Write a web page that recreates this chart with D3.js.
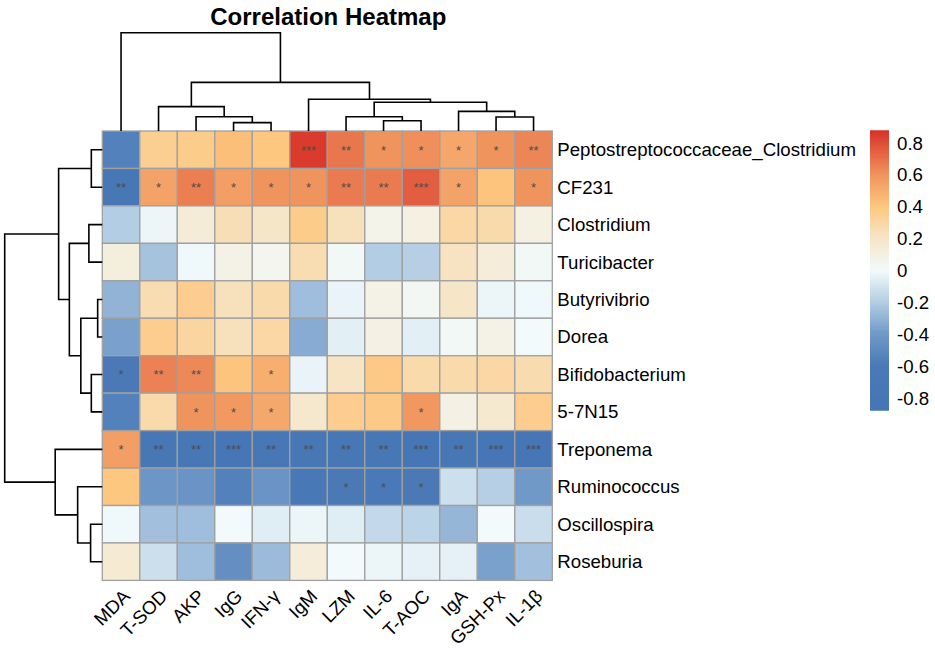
<!DOCTYPE html>
<html>
<head>
<meta charset="utf-8">
<style>
  body { margin: 0; background: white; font-family: "Liberation Sans", Arial, sans-serif; }
</style>
<script src="https://cdn.jsdelivr.net/npm/d3@7"></script>
</head>
<body>
<svg id="chart" width="935" height="648"></svg>
<script>

let colNames = ["MDA", "T-SOD", "AKP", "IgG", "IFN-\u03b3", "IgM", "LZM", "IL-6", "T-AOC", "IgA", "GSH-Px", "IL-1\u03b2"]

let rowNames = ["Peptostreptococcaceae_Clostridium", "CF231", "Clostridium", "Turicibacter",
  "Butyrivibrio", "Dorea", "Bifidobacterium", "5-7N15", "Treponema", "Ruminococcus",
  "Oscillospira", "Roseburia"]

// correlation values, one row per genus, columns in colNames order
let corr = [
  [-0.55, 0.35, 0.37, 0.43, 0.40, 0.85, 0.68, 0.60, 0.61, 0.53, 0.60, 0.64],
  [-0.75, 0.54, 0.66, 0.56, 0.60, 0.60, 0.67, 0.67, 0.75, 0.54, 0.41, 0.60],
  [-0.20, -0.02, 0.14, 0.25, 0.20, 0.37, 0.23, 0.07, 0.10, 0.30, 0.28, 0.10],
  [0.12, -0.24, -0.01, 0.08, 0.05, 0.26, 0.02, -0.20, -0.19, 0.22, 0.13, 0.02],
  [-0.30, 0.26, 0.36, 0.23, 0.28, -0.26, -0.03, 0.08, 0.03, 0.20, -0.02, -0.01],
  [-0.37, 0.36, 0.31, 0.23, 0.30, -0.33, -0.05, 0.09, -0.05, 0.02, 0.08, 0.00],
  [-0.60, 0.65, 0.63, 0.41, 0.50, -0.03, 0.21, 0.38, 0.28, 0.28, 0.30, 0.27],
  [-0.55, 0.28, 0.60, 0.58, 0.52, 0.18, 0.36, 0.38, 0.59, 0.09, 0.17, 0.36],
  [0.56, -0.75, -0.75, -0.80, -0.75, -0.76, -0.76, -0.75, -0.80, -0.76, -0.80, -0.80],
  [0.40, -0.42, -0.43, -0.55, -0.43, -0.65, -0.62, -0.63, -0.62, -0.12, -0.19, -0.40],
  [-0.01, -0.25, -0.26, 0.00, -0.06, -0.02, -0.06, -0.15, -0.17, -0.29, 0.00, -0.13],
  [0.16, -0.12, -0.26, -0.46, -0.27, 0.13, 0.00, -0.02, -0.04, -0.04, -0.37, -0.25]
]

let stars = [
  ["", "", "", "", "", "***", "**", "*", "*", "*", "*", "**"],
  ["**", "*", "**", "*", "*", "*", "**", "**", "***", "*", "", "*"],
  ["", "", "", "", "", "", "", "", "", "", "", ""],
  ["", "", "", "", "", "", "", "", "", "", "", ""],
  ["", "", "", "", "", "", "", "", "", "", "", ""],
  ["", "", "", "", "", "", "", "", "", "", "", ""],
  ["*", "**", "**", "", "*", "", "", "", "", "", "", ""],
  ["", "", "*", "*", "*", "", "", "", "*", "", "", ""],
  ["*", "**", "**", "***", "**", "**", "**", "**", "***", "**", "***", "***"],
  ["", "", "", "", "", "", "*", "*", "*", "", "", ""],
  ["", "", "", "", "", "", "", "", "", "", "", ""],
  ["", "", "", "", "", "", "", "", "", "", "", ""]
]

// dendrogram merges: [left, right, height]; numbers are leaf indices
let colTree = [0, [[1, [2, [3, 4, 0.34], 0.58], 0.99],
  [5, [[6, [7, 8, 0.42], 0.58], [9, [10, 11, 0.57], 0.80], 1.17], 1.29], 1.98], 4.0]

let rowTree = [[[0, 1, 0.45], [[2, 3, 0.55], [[4, 5, 0.19], [6, 7, 0.45], 0.88], 1.35], 1.79],
  [8, [9, [10, 11, 0.48], 1.01], 1.93], 4.0]

let legendTicks = [0.8, 0.6, 0.4, 0.2, 0, -0.2, -0.4, -0.6, -0.8]

let colorStops = [-0.88, -0.6, -0.4, -0.2, 0, 0.2, 0.4, 0.6, 0.88]
let colorRange = ["#4575B4", "#4A79B6", "#7099C8", "#B3CDE4", "#F2FAFB", "#F6E6C8", "#FDC77F", "#F0945E", "#D73027"]


let svg = d3.select("#chart")

let gridLeft = 102.3, gridTop = 131, cellW = 37.5, cellH = 37.45
let fs = 18.67

let x = d3.scaleBand().domain(d3.range(colNames.length))
  .range([gridLeft, gridLeft + cellW * colNames.length])
let y = d3.scaleBand().domain(d3.range(rowNames.length))
  .range([gridTop, gridTop + cellH * rowNames.length])

let color = d3.scaleLinear().domain(colorStops).range(colorRange)
  .interpolate(d3.interpolateRgb).clamp(true)

let cells = []
corr.forEach((row, i) => row.forEach((v, j) => cells.push({i, j, v, s: stars[i][j]})))

svg.append("g").selectAll("rect").data(cells).enter().append("rect")
  .attr("x", d => x(d.j))
  .attr("y", d => y(d.i))
  .attr("width", x.bandwidth())
  .attr("height", y.bandwidth())
  .attr("fill", d => color(d.v))
  .attr("stroke", "#a0a0a0")
  .attr("stroke-width", 1.3)

svg.append("g").selectAll("text").data(cells.filter(d => d.s)).enter().append("text")
  .attr("x", d => x(d.j) + x.bandwidth() / 2)
  .attr("y", d => y(d.i) + y.bandwidth() / 2 + 5)
  .attr("text-anchor", "middle")
  .attr("font-size", 13)
  .attr("fill", "#4d4d4d")
  .text(d => d.s)

// row labels
svg.append("g").selectAll("text").data(rowNames).enter().append("text")
  .attr("x", gridLeft + cellW * colNames.length + 5)
  .attr("y", (d, i) => y(i) + y.bandwidth() / 2)
  .attr("dominant-baseline", "central")
  .attr("font-size", fs)
  .attr("fill", "#000")
  .text(d => d)

// column labels
let gridBottom = gridTop + cellH * rowNames.length
svg.append("g").selectAll("text").data(colNames).enter().append("text")
  .attr("transform", (d, i) => `translate(${x(i) + x.bandwidth() / 2 + 10},${gridBottom + 17}) rotate(-45)`)
  .attr("text-anchor", "end")
  .attr("font-size", fs)
  .text(d => d)

// dendrograms
function layout(node, pos) {
  if (typeof node === "number") return {p: pos(node), h: 0}
  let a = layout(node[0], pos), b = layout(node[1], pos)
  let out = {p: (a.p + b.p) / 2, h: node[2]}
  segs.push({a, b, h: node[2]})
  return out
}

let segs = []
layout(colTree, i => x(i) + x.bandwidth() / 2)
let hTop = d3.scaleLinear().domain([0, 4]).range([gridTop, 32.7])
svg.append("g").selectAll("path").data(segs).enter().append("path")
  .attr("d", s => `M${s.a.p},${hTop(s.a.h)}V${hTop(s.h)}H${s.b.p}V${hTop(s.b.h)}`)
  .attr("fill", "none").attr("stroke", "#000").attr("stroke-width", 1.6)

segs = []
layout(rowTree, i => y(i) + y.bandwidth() / 2)
let hLeft = d3.scaleLinear().domain([0, 4]).range([gridLeft, 4.7])
svg.append("g").selectAll("path").data(segs).enter().append("path")
  .attr("d", s => `M${hLeft(s.a.h)},${s.a.p}H${hLeft(s.h)}V${s.b.p}H${hLeft(s.b.h)}`)
  .attr("fill", "none").attr("stroke", "#000").attr("stroke-width", 1.6)

// title
svg.append("text")
  .attr("x", gridLeft + cellW * colNames.length / 2 + 1)
  .attr("y", 25)
  .attr("text-anchor", "middle")
  .attr("font-size", 24)
  .attr("font-weight", "bold")
  .text("Correlation Heatmap")

// legend
let ly = d3.scaleLinear().domain([0.8, -0.8]).range([143, 398])
let defs = svg.append("defs")
let grad = defs.append("linearGradient").attr("id", "lg")
  .attr("x1", 0).attr("y1", 0).attr("x2", 0).attr("y2", 1)
let lMin = colorStops[0], lMax = colorStops[colorStops.length - 1]
d3.range(0, 1.0001, 0.02).forEach(t => {
  let v = lMax - t * (lMax - lMin)
  grad.append("stop").attr("offset", t).attr("stop-color", color(v))
})
svg.append("rect")
  .attr("x", 870).attr("width", 19)
  .attr("y", ly(lMax)).attr("height", ly(lMin) - ly(lMax))
  .attr("fill", "url(#lg)")

svg.append("g").selectAll("text").data(legendTicks).enter().append("text")
  .attr("x", 897)
  .attr("y", d => ly(d))
  .attr("dominant-baseline", "central")
  .attr("font-size", fs)
  .text(d => d)

</script>
</body>
</html>
